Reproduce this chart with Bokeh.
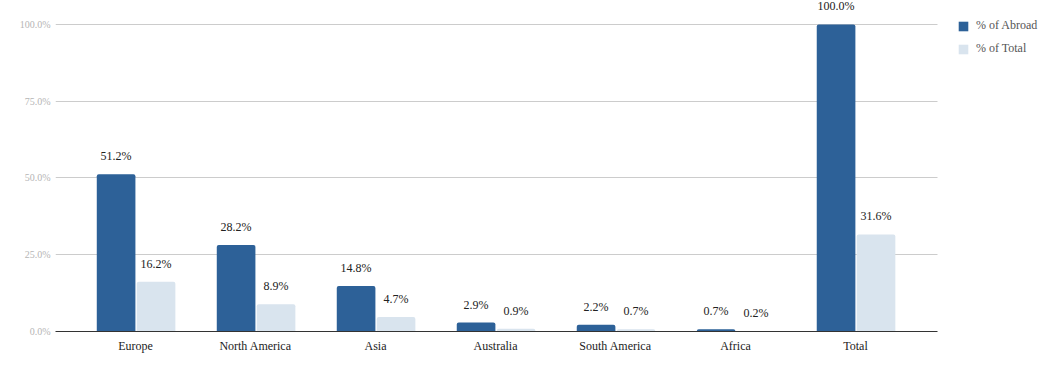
from bokeh.plotting import figure
from bokeh.models import (ColumnDataSource, Range1d, FixedTicker, PrintfTickFormatter,
                          LabelSet, Legend, LegendItem)
from bokeh.embed import file_html
from bokeh.resources import INLINE
from bokeh.core.properties import value

categories = ["Europe", "North America", "Asia", "Australia", "South America", "Africa", "Total"]
pct_abroad = [51.2, 28.2, 14.8, 2.9, 2.2, 0.7, 100.0]
pct_total = [16.2, 8.9, 4.7, 0.9, 0.7, 0.2, 31.6]
y_ticks = [0, 25, 50, 75, 100]

BLUE = "#2d6198"
LIGHT = "#d9e4ee"
FONT = "Times New Roman"

idx = list(range(len(categories)))
src_a = ColumnDataSource(dict(
    x=[i - 0.162 for i in idx], top=pct_abroad,
    txt=["%.1f%%" % v for v in pct_abroad]))
src_t = ColumnDataSource(dict(
    x=[i + 0.171 for i in idx], top=pct_total,
    txt=["%.1f%%" % v for v in pct_total]))

X_LO, X_HI = -0.667, 6.683   # visible category band (axis line and grid extent)

p = figure(width=1050, height=363, output_backend="svg", toolbar_location=None,
           x_range=Range1d(X_LO, 7.625), y_range=Range1d(0, 107.8),
           min_border_left=55, min_border_right=0, min_border_top=0, min_border_bottom=32)
p.outline_line_color = None
p.background_fill_color = "white"
p.border_fill_color = "white"

ra = p.vbar(x="x", top="top", bottom=0, width=0.322, source=src_a, fill_color=BLUE,
            line_color=None, border_radius=(2, 2, 0, 0))
rt = p.vbar(x="x", top="top", bottom=0, width=0.322, source=src_t, fill_color=LIGHT,
            line_color=None, border_radius=(2, 2, 0, 0))

for s in (src_a, src_t):
    p.add_layout(LabelSet(x="x", y="top", text="txt", y_offset=18, source=s,
                          text_align="center", text_baseline="middle",
                          text_font=value(FONT), text_font_size="12px",
                          text_color="#222222"))

p.xaxis.ticker = FixedTicker(ticks=idx)
p.xaxis.bounds = (X_LO, X_HI)
p.xaxis.major_label_overrides = {i: c for i, c in zip(idx, categories)}
p.xaxis.major_tick_line_color = None
p.xaxis.major_tick_out = 0
p.xaxis.minor_tick_line_color = None
p.xaxis.axis_line_color = "#333333"
p.xaxis.major_label_standoff = 7
p.xaxis.major_label_text_font = FONT
p.xaxis.major_label_text_font_size = "12px"
p.xaxis.major_label_text_color = "#222222"

p.yaxis.ticker = FixedTicker(ticks=y_ticks)
p.yaxis.formatter = PrintfTickFormatter(format="%.1f%%")
p.yaxis.axis_line_color = None
p.yaxis.major_tick_line_color = None
p.yaxis.major_tick_out = 0
p.yaxis.minor_tick_line_color = None
p.yaxis.major_label_standoff = 5
p.yaxis.major_label_text_font = FONT
p.yaxis.major_label_text_font_size = "10px"
p.yaxis.major_label_text_color = "#b5b5b5"

p.xgrid.grid_line_color = None
p.ygrid.grid_line_color = "#cccccc"
p.ygrid.ticker = FixedTicker(ticks=y_ticks)
p.ygrid.cross_bounds = (X_LO, X_HI)

legend = Legend(items=[LegendItem(label="% of Abroad", renderers=[ra]),
                       LegendItem(label="% of Total", renderers=[rt])],
                location=(902, 275), padding=0, margin=0, spacing=8,
                glyph_width=12, glyph_height=12, label_height=12, label_standoff=7,
                label_text_font=FONT, label_text_font_size="12px", label_text_color="#555555",
                border_line_color=None, background_fill_alpha=0)
p.add_layout(legend, "center")

open("out.html", "w").write(file_html(p, INLINE))
